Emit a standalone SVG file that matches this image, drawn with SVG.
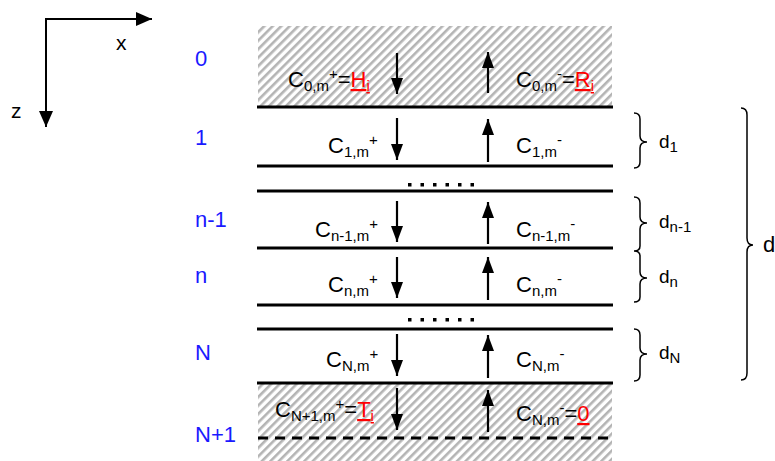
<svg xmlns="http://www.w3.org/2000/svg" width="775" height="461" viewBox="0 0 775 461">
<style>
  text { font-family: "Liberation Sans", Arial, sans-serif; fill: #000; }
  .c { font-size: 22px; }
  .s { font-size: 15px; }
  .lbl { font-size: 22px; fill: #1a1aff; }
  .d { font-size: 19px; }
  .red { fill: #ff0000; text-decoration: underline; }
  .sep { stroke: #000; stroke-width: 3; }
  .flux { stroke: #000; stroke-width: 2.2; marker-end: url(#ah); }
  .brace { fill: none; stroke: #000; stroke-width: 1.5; }
</style>
<defs>
  <pattern id="hatch" width="6" height="6" patternUnits="userSpaceOnUse" patternTransform="rotate(45)">
    <rect width="6" height="6" fill="#fff"/>
    <rect x="0" y="0" width="2.6" height="6" fill="#b4b4b4"/>
  </pattern>
  <marker id="ah" markerUnits="userSpaceOnUse" markerWidth="18" markerHeight="14" refX="16" refY="6" orient="auto">
    <path d="M0,0 L16,6 L0,12 z" fill="#000"/>
  </marker>
  <marker id="axh" markerUnits="userSpaceOnUse" markerWidth="17" markerHeight="15" refX="16" refY="7" orient="auto">
    <path d="M0,0 L16,7 L0,14 z" fill="#000"/>
  </marker>
</defs>

<g id="axes">
  <line x1="46" y1="19" x2="152" y2="19" stroke="#000" stroke-width="2" marker-end="url(#axh)"/>
  <line x1="46" y1="18" x2="46" y2="127" stroke="#000" stroke-width="2" marker-end="url(#axh)"/>
  <text x="116" y="50" style="font-size:21px">x</text>
  <text x="11" y="118" style="font-size:21px">z</text>
</g>

<g id="half-spaces">
  <rect x="258" y="26" width="354" height="81" fill="url(#hatch)"/>
  <rect x="258" y="383" width="354" height="78" fill="url(#hatch)"/>
</g>

<g id="interfaces">
  <line class="sep" x1="257" y1="107" x2="613" y2="107"/>
  <line class="sep" x1="257" y1="166" x2="613" y2="166"/>
  <line class="sep" x1="257" y1="191" x2="613" y2="191"/>
  <line class="sep" x1="257" y1="248" x2="613" y2="248"/>
  <line class="sep" x1="257" y1="305" x2="613" y2="305"/>
  <line class="sep" x1="257" y1="329" x2="613" y2="329"/>
  <line class="sep" x1="257" y1="383" x2="613" y2="383"/>
  <line x1="258" y1="438" x2="613" y2="438" stroke="#000" stroke-width="3" stroke-dasharray="10,7"/>
</g>

<g id="dots" fill="#000">
  <rect x="408" y="183" width="3.5" height="3.5"/><rect x="420.5" y="183" width="3.5" height="3.5"/><rect x="433" y="183" width="3.5" height="3.5"/><rect x="445.5" y="183" width="3.5" height="3.5"/><rect x="458" y="183" width="3.5" height="3.5"/><rect x="470.5" y="183" width="3.5" height="3.5"/>
  <rect x="408" y="318" width="3.5" height="3.5"/><rect x="420.5" y="318" width="3.5" height="3.5"/><rect x="433" y="318" width="3.5" height="3.5"/><rect x="445.5" y="318" width="3.5" height="3.5"/><rect x="458" y="318" width="3.5" height="3.5"/><rect x="470.5" y="318" width="3.5" height="3.5"/>
</g>

<g id="connectors">
  <line class="flux" x1="397" y1="53" x2="397" y2="94"/>
  <line class="flux" x1="488" y1="93" x2="488" y2="52"/>
  <line class="flux" x1="397" y1="118" x2="397" y2="160"/>
  <line class="flux" x1="488" y1="162" x2="488" y2="119"/>
  <line class="flux" x1="397" y1="201" x2="397" y2="242"/>
  <line class="flux" x1="488" y1="244" x2="488" y2="202"/>
  <line class="flux" x1="397" y1="257" x2="397" y2="298"/>
  <line class="flux" x1="488" y1="300" x2="488" y2="257"/>
  <line class="flux" x1="397" y1="334" x2="397" y2="376"/>
  <line class="flux" x1="488" y1="378" x2="488" y2="335"/>
  <line class="flux" x1="397" y1="388" x2="397" y2="430"/>
  <line class="flux" x1="488" y1="432" x2="488" y2="390"/>
</g>

<g id="layer-labels">
  <text class="lbl" x="195" y="66">0</text>
  <text class="lbl" x="195" y="145">1</text>
  <text class="lbl" x="195" y="227">n-1</text>
  <text class="lbl" x="195" y="283">n</text>
  <text class="lbl" x="195" y="360">N</text>
  <text class="lbl" x="195" y="442">N+1</text>
</g>

<g id="layer-0">
  <text class="c" x="288" y="87">C<tspan class="s" dy="4">0,m</tspan><tspan class="s" dy="-12">+</tspan><tspan dy="8">=</tspan><tspan class="red">H</tspan><tspan class="s red" dy="4">i</tspan></text>
  <text class="c" x="516" y="87">C<tspan class="s" dy="4">0,m</tspan><tspan class="s" dy="-12">-</tspan><tspan dy="8">=</tspan><tspan class="red">R</tspan><tspan class="s red" dy="4">i</tspan></text>
</g>

<g id="layer-1">
  <text class="c" x="328" y="153">C<tspan class="s" dy="4">1,m</tspan><tspan class="s" dy="-12">+</tspan></text>
  <text class="c" x="516" y="153">C<tspan class="s" dy="4">1,m</tspan><tspan class="s" dy="-12">-</tspan></text>
</g>

<g id="layer-n-1">
  <text class="c" x="315" y="237">C<tspan class="s" dy="4">n-1,m</tspan><tspan class="s" dy="-12">+</tspan></text>
  <text class="c" x="516" y="237">C<tspan class="s" dy="4">n-1,m</tspan><tspan class="s" dy="-12">-</tspan></text>
</g>

<g id="layer-n">
  <text class="c" x="328" y="292">C<tspan class="s" dy="4">n,m</tspan><tspan class="s" dy="-12">+</tspan></text>
  <text class="c" x="516" y="292">C<tspan class="s" dy="4">n,m</tspan><tspan class="s" dy="-12">-</tspan></text>
</g>

<g id="layer-N">
  <text class="c" x="326" y="367">C<tspan class="s" dy="4">N,m</tspan><tspan class="s" dy="-12">+</tspan></text>
  <text class="c" x="516" y="367">C<tspan class="s" dy="4">N,m</tspan><tspan class="s" dy="-12">-</tspan></text>
</g>

<g id="layer-N+1">
  <text class="c" x="275" y="417">C<tspan class="s" dy="4">N+1,m</tspan><tspan class="s" dy="-12">+</tspan><tspan dy="8">=</tspan><tspan class="red">T</tspan><tspan class="s red" dy="4">i</tspan></text>
  <text class="c" x="516" y="421">C<tspan class="s" dy="4">N,m</tspan><tspan class="s" dy="-12">-</tspan><tspan dy="8">=</tspan><tspan class="red">0</tspan></text>
</g>

<g id="thicknesses">
  <path class="brace" d="M634,113 Q640,113 640,119 L640,136 Q640,142 647,142 Q640,142 640,148 L640,162 Q640,168 634,168"/>
  <text class="d" x="659" y="148">d<tspan class="s" dy="4">1</tspan></text>
  <path class="brace" d="M634,197 Q640,197 640,203 L640,217 Q640,223 647,223 Q640,223 640,229 L640,246 Q640,251 634,251 Q640,251 640,256 L640,272 Q640,278 647,278 Q640,278 640,284 L640,297 Q640,302 634,302"/>
  <text class="d" x="659" y="228">d<tspan class="s" dy="4">n-1</tspan></text>
  <text class="d" x="659" y="283">d<tspan class="s" dy="4">n</tspan></text>
  <path class="brace" d="M634,329 Q640,329 640,335 L640,348 Q640,354 647,354 Q640,354 640,360 L640,375 Q640,381 634,381"/>
  <text class="d" x="659" y="359">d<tspan class="s" dy="4">N</tspan></text>
  <path class="brace" d="M741,108 Q747,108 747,115 L747,238 Q747,245 753,245 Q747,245 747,252 L747,373 Q747,380 741,380"/>
  <text x="763" y="252" style="font-size:22px">d</text>
</g>
</svg>
